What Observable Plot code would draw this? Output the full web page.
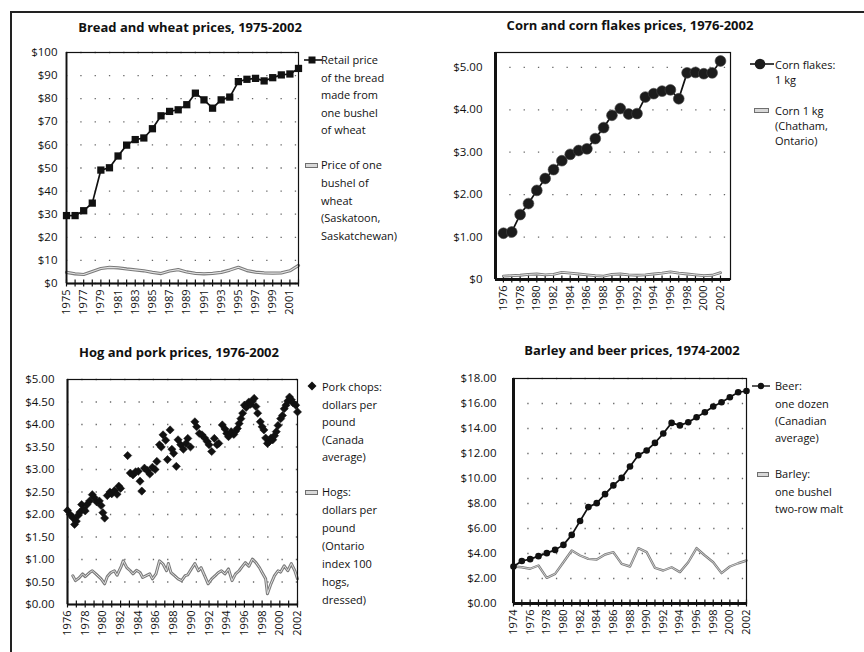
<!DOCTYPE html>
<html><head><meta charset="utf-8">
<script src="https://cdn.jsdelivr.net/npm/d3@7"></script>
<script src="https://cdn.jsdelivr.net/npm/@observablehq/plot@0.6"></script>
<style>
body{margin:0;background:#fff;font-family:"Open Sans",sans-serif;}
#page{position:relative;width:864px;height:652px;overflow:hidden;background:#fff;}
#border{position:absolute;left:10px;top:11px;width:900px;height:700px;border-left:2px solid #222;border-top:2px solid #222;}
.title{position:absolute;font-weight:700;font-size:13px;line-height:18px;color:#111;white-space:nowrap;transform:translateX(-50%);}
.leg{position:absolute;font-size:11px;color:#111;white-space:nowrap;}
.sym{position:absolute;overflow:visible;}
</style></head><body><div id="page"><div id="border"></div></div>
<script>
// ---------- Data ----------
const breadYears = [1975,1976,1977,1978,1979,1980,1981,1982,1983,1984,1985,1986,1987,1988,1989,1990,1991,1992,1993,1994,1995,1996,1997,1998,1999,2000,2001,2002];
const breadPrice = [29.4,29.4,31.5,34.8,49.1,50.1,55.2,59.9,62.3,63.0,67.0,72.6,74.5,75.2,77.4,82.4,79.5,75.9,79.5,80.7,87.4,88.4,88.8,87.7,89.1,90.3,90.7,93.1];
const wheatPrice = [4.8,4.2,3.9,5.2,6.5,7.0,6.8,6.3,5.9,5.5,4.8,4.3,5.4,6.0,5.0,4.4,4.2,4.4,4.8,5.8,7.0,5.6,4.9,4.6,4.5,4.6,5.5,7.8];

const cornYears = [1976,1977,1978,1979,1980,1981,1982,1983,1984,1985,1986,1987,1988,1989,1990,1991,1992,1993,1994,1995,1996,1997,1998,1999,2000,2001,2002];
const cornFlakes = [1.09,1.12,1.53,1.79,2.10,2.38,2.59,2.80,2.95,3.04,3.08,3.32,3.58,3.87,4.03,3.90,3.91,4.30,4.38,4.44,4.47,4.26,4.87,4.88,4.85,4.87,5.15];
const cornKg = [0.08,0.09,0.10,0.12,0.13,0.11,0.12,0.17,0.15,0.13,0.11,0.09,0.08,0.12,0.13,0.11,0.10,0.11,0.13,0.15,0.18,0.15,0.13,0.11,0.09,0.10,0.16];

const porkT = [1976.0,1976.3,1976.6,1976.8,1977.0,1977.2,1977.4,1977.6,1977.8,1978.0,1978.2,1978.5,1978.8,1979.0,1979.3,1979.6,1979.8,1980.0,1980.2,1980.5,1980.8,1981.0,1981.3,1981.6,1981.8,1982.0,1982.8,1983.1,1983.4,1983.7,1984.0,1984.2,1984.4,1984.7,1985.0,1985.3,1985.6,1985.9,1986.1,1986.4,1986.6,1986.8,1987.1,1987.3,1987.6,1987.8,1988.0,1988.3,1988.5,1988.8,1989.1,1989.4,1989.6,1989.9,1990.4,1990.6,1990.9,1991.2,1991.5,1991.8,1992.0,1992.3,1992.6,1992.9,1993.1,1993.5,1993.8,1994.0,1994.2,1994.5,1994.8,1995.0,1995.2,1995.4,1995.6,1995.8,1996.0,1996.2,1996.5,1996.7,1996.9,1997.1,1997.3,1997.5,1997.8,1998.0,1998.2,1998.4,1998.6,1998.8,1999.0,1999.2,1999.4,1999.6,1999.8,2000.1,2000.3,2000.5,2000.7,2000.9,2001.1,2001.3,2001.5,2001.8,2002.0];
const porkV = [2.09,2.00,1.93,1.78,1.85,1.98,2.05,2.22,2.12,2.08,2.22,2.30,2.44,2.38,2.28,2.30,2.20,2.04,1.92,2.42,2.50,2.46,2.53,2.45,2.63,2.58,3.31,2.92,2.88,2.95,2.96,2.74,2.52,3.03,2.98,2.90,3.05,3.00,3.18,3.55,3.50,3.77,3.65,3.22,3.88,3.45,3.36,3.07,3.66,3.55,3.45,3.58,3.69,3.50,4.06,3.95,3.80,3.77,3.70,3.62,3.55,3.40,3.69,3.55,3.58,3.99,3.90,3.80,3.73,3.84,3.78,3.85,3.91,4.02,4.13,4.25,4.43,4.38,4.50,4.45,4.52,4.58,4.40,4.25,4.06,3.95,3.88,3.70,3.58,3.62,3.70,3.66,3.75,3.84,3.98,4.13,4.20,4.35,4.43,4.52,4.61,4.55,4.48,4.43,4.28];

const hogT = [1976.6,1976.9,1977.3,1977.7,1978.0,1978.5,1978.8,1979.2,1979.8,1980.2,1980.5,1980.9,1981.3,1981.6,1982.1,1982.3,1982.7,1983.1,1983.4,1983.8,1984.2,1984.5,1984.9,1985.3,1985.6,1986.0,1986.4,1986.8,1987.2,1987.4,1987.7,1988.1,1988.5,1988.9,1989.3,1989.6,1990.0,1990.4,1990.8,1991.1,1991.5,1991.9,1992.3,1992.7,1993.0,1993.4,1993.8,1994.2,1994.6,1995.0,1995.4,1995.7,1996.1,1996.5,1996.9,1997.3,1997.7,1998.0,1998.4,1998.6,1998.8,1999.0,1999.4,1999.8,2000.1,2000.5,2000.9,2001.3,2001.7,2002.0];
const hogV = [0.64,0.53,0.59,0.68,0.62,0.71,0.75,0.68,0.57,0.46,0.62,0.71,0.75,0.65,0.86,0.97,0.82,0.75,0.68,0.76,0.71,0.60,0.64,0.68,0.57,0.68,0.97,0.90,0.75,0.91,0.71,0.64,0.57,0.53,0.64,0.66,0.79,0.91,0.75,0.82,0.64,0.46,0.57,0.64,0.70,0.75,0.68,0.79,0.53,0.68,0.75,0.83,0.93,0.85,1.01,0.93,0.82,0.71,0.57,0.24,0.35,0.46,0.64,0.75,0.72,0.86,0.75,0.91,0.75,0.57];

const beerYears = [1974,1975,1976,1977,1978,1979,1980,1981,1982,1983,1984,1985,1986,1987,1988,1989,1990,1991,1992,1993,1994,1995,1996,1997,1998,1999,2000,2001,2002];
const beerPrice = [2.96,3.40,3.55,3.79,4.03,4.29,4.69,5.49,6.60,7.71,8.03,8.75,9.45,10.05,10.96,11.86,12.24,12.85,13.60,14.45,14.25,14.50,14.90,15.30,15.76,16.10,16.50,16.90,17.00];
const barleyPrice = [2.96,2.90,2.78,3.04,2.05,2.37,3.30,4.24,3.84,3.57,3.52,3.92,4.11,3.17,2.96,4.43,4.11,2.85,2.64,2.90,2.51,3.30,4.43,3.84,3.30,2.43,2.96,3.22,3.44];

const breadTicks = [0,10,20,30,40,50,60,70,80,90,100];
const cornTicks = [0,1,2,3,4,5];
const porkTicks = [0,0.5,1,1.5,2,2.5,3,3.5,4,4.5,5];
const beerTicks = [0,2,4,6,8,10,12,14,16,18];
const breadLabels = [1975,1977,1979,1981,1983,1985,1987,1989,1991,1993,1995,1997,1999,2001];
const cornLabels = [1976,1978,1980,1982,1984,1986,1988,1990,1992,1994,1996,1998,2000,2002];
const porkLabels = cornLabels;
const beerLabels = [1974,1976,1978,1980,1982,1984,1986,1988,1990,1992,1994,1996,1998,2000,2002];

const titles = ["Bread and wheat prices, 1975-2002","Corn and corn flakes prices, 1976-2002","Hog and pork prices, 1976-2002","Barley and beer prices, 1974-2002"];

// ---------- Helpers ----------
const page = document.getElementById("page");
const FONT = "'Open Sans', sans-serif";
const yearsRange = (a, b) => d3.range(a, b + 1);

function grayLine(data, x, y, w1 = 3.2, w2 = 1.1) {
  return [
    Plot.line(data, {x, y, stroke: "#7a7a7a", strokeWidth: w1, curve: "linear"}),
    Plot.line(data, {x, y, stroke: "#e2e2e2", strokeWidth: w2, curve: "linear"})
  ];
}

function panel(cfg) {
  const [fx0, fy0, fx1, fy1] = cfg.frame;
  const mL = 60, mR = 15, mT = 15, mB = 45;
  const svg = Plot.plot({
    width: fx1 - fx0 + mL + mR,
    height: fy1 - fy0 + mT + mB,
    marginLeft: mL, marginRight: mR, marginTop: mT, marginBottom: mB,
    style: {fontFamily: FONT, fontSize: "11px", color: "#111", background: "transparent", overflow: "visible"},
    x: {domain: cfg.xDomain},
    y: {domain: cfg.yDomain},
    marks: [
      Plot.gridY(cfg.yTicks, {stroke: "#333", strokeOpacity: 0.75, strokeWidth: 1.3, strokeDasharray: "1.3,13"}),
      Plot.axisY(cfg.yTicks, {tickSize: 0, tickPadding: cfg.yPad, tickFormat: cfg.yFmt, label: null, fontSize: 11.5}),
      Plot.axisX(cfg.xTicks, {tickSize: 7, dy: -3.5, tickFormat: () => "", label: null, strokeWidth: 1.2, stroke: "#111"}),
      Plot.axisX(cfg.xLabels, {tickSize: 0, tickPadding: 6, tickRotate: -90, tickFormat: d => String(d), label: null, fontSize: 11}),
      ...cfg.marks,
      Plot.frame({stroke: "#111", strokeWidth: 1.2}),
      Plot.ruleX([cfg.xDomain[0]], {stroke: "#111", strokeWidth: cfg.leftW}),
      Plot.ruleY([cfg.yDomain[0]], {stroke: "#111", strokeWidth: cfg.leftW})
    ]
  });
  svg.style.position = "absolute";
  svg.style.left = (fx0 - mL) + "px";
  svg.style.top = (fy0 - mT) + "px";
  page.appendChild(svg);
}

function title(text, cx, cy) {
  const d = document.createElement("div");
  d.className = "title"; d.textContent = text;
  d.style.left = cx + "px"; d.style.top = (cy - 9) + "px";
  page.appendChild(d);
}
function legend(lines, x, cy, lh) {
  const d = document.createElement("div");
  d.className = "leg";
  d.style.left = x + "px"; d.style.top = (cy - lh / 2) + "px"; d.style.lineHeight = lh + "px";
  d.innerHTML = lines.join("<br>");
  page.appendChild(d);
}
function sym(x, y, w, h, inner) {
  const ns = "http://www.w3.org/2000/svg";
  const s = document.createElementNS(ns, "svg");
  s.setAttribute("class", "sym"); s.setAttribute("width", w); s.setAttribute("height", h);
  s.style.left = x + "px"; s.style.top = y + "px";
  s.innerHTML = inner;
  page.appendChild(s);
}
const grayBox = (w, h) => `<rect x="0.5" y="0.5" width="${w - 1}" height="${h - 1}" fill="#d8d8d8" stroke="#6f6f6f" stroke-width="1"/>`;

// ---------- Panel 1: Bread and wheat ----------
const breadRows = breadYears.map((year, i) => ({year, bread: breadPrice[i], wheat: wheatPrice[i]}));
panel({
  frame: [66, 52, 298, 283], xDomain: [1975, 2002], yDomain: [0, 100],
  yTicks: breadTicks, yFmt: d => "$" + d, yPad: 9, leftW: 1.8,
  xTicks: yearsRange(1975, 2002), xLabels: breadLabels,
  marks: [
    ...grayLine(breadRows, "year", "wheat"),
    Plot.line(breadRows, {x: "year", y: "bread", stroke: "#111", strokeWidth: 1.7}),
    Plot.dot(breadRows, {x: "year", y: "bread", symbol: "square", r: 4.1, fill: "#111"})
  ]
});

// ---------- Panel 2: Corn and corn flakes ----------
const cornRows = cornYears.map((year, i) => ({year, flakes: cornFlakes[i], corn: cornKg[i]}));
panel({
  frame: [495, 52, 730, 279], xDomain: [1975.05, 2003.2], yDomain: [0, 5.35],
  yTicks: cornTicks, yFmt: d => d === 0 ? "$0" : "$" + d.toFixed(2), yPad: 13, leftW: 3,
  xTicks: yearsRange(1976, 2002), xLabels: cornLabels,
  marks: [
    ...grayLine(cornRows, "year", "corn", 2.8, 1),
    Plot.line(cornRows, {x: "year", y: "flakes", stroke: "#111", strokeWidth: 1.7}),
    Plot.dot(cornRows, {x: "year", y: "flakes", r: 5.4, fill: "#1c1c1c", stroke: "#444", strokeWidth: 0.6})
  ]
});

// ---------- Panel 3: Hog and pork ----------
const porkRows = porkT.map((t, i) => ({t, v: porkV[i]}));
const hogRows = hogT.map((t, i) => ({t, v: hogV[i]}));
panel({
  frame: [67, 379, 297, 604], xDomain: [1976, 2002], yDomain: [0, 5],
  yTicks: porkTicks, yFmt: d => "$" + d.toFixed(2), yPad: 13, leftW: 2,
  xTicks: yearsRange(1976, 2002), xLabels: porkLabels,
  marks: [
    ...grayLine(hogRows, "t", "v", 3, 1),
    Plot.dot(porkRows, {x: "t", y: "v", symbol: "diamond2", r: 3.7, fill: "#111", stroke: "#111", strokeWidth: 0.5})
  ]
});

// ---------- Panel 4: Barley and beer ----------
const beerRows = beerYears.map((year, i) => ({year, beer: beerPrice[i], barley: barleyPrice[i]}));
panel({
  frame: [513, 378, 746, 603], xDomain: [1974, 2002], yDomain: [0, 18],
  yTicks: beerTicks, yFmt: d => "$" + d.toFixed(2), yPad: 17, leftW: 3,
  xTicks: yearsRange(1974, 2002), xLabels: beerLabels,
  marks: [
    ...grayLine(beerRows, "year", "barley", 2.4, 0.8),
    Plot.line(beerRows, {x: "year", y: "beer", stroke: "#111", strokeWidth: 1.7}),
    Plot.dot(beerRows, {x: "year", y: "beer", r: 3.3, fill: "#111"})
  ]
});

// ---------- Titles ----------
title(titles[0], 190, 27);
title(titles[1], 630, 25);
title(titles[2], 179, 352);
title(titles[3], 632, 350);

// ---------- Legends ----------
sym(304, 55, 18, 10, `<line x1="0" y1="5" x2="18" y2="5" stroke="#111" stroke-width="1.6"/><rect x="4.5" y="1.5" width="7" height="7" fill="#111"/>`);
legend(["Retail price", "of the bread", "made from", "one bushel", "of wheat"], 321, 60, 17.5);
sym(305, 163, 13, 5, grayBox(13, 5));
legend(["Price of one", "bushel of", "wheat", "(Saskatoon,", "Saskatchewan)"], 321, 165, 17.7);

sym(750, 58, 24, 12, `<line x1="0" y1="6" x2="24" y2="6" stroke="#111" stroke-width="1.6"/><circle cx="10" cy="6" r="5.3" fill="#1c1c1c"/>`);
legend(["Corn flakes:", "1 kg"], 775, 64, 15);
sym(754, 108, 15, 5, grayBox(15, 5));
legend(["Corn 1 kg", "(Chatham,", "Ontario)"], 775, 110.7, 15);

sym(307, 381, 10, 10, `<polygon points="5,0.5 9.5,5 5,9.5 0.5,5" fill="#111"/>`);
legend(["Pork chops:", "dollars per", "pound", "(Canada", "average)"], 322, 387, 17.5);
sym(305, 490, 13, 5, grayBox(13, 5));
legend(["Hogs:", "dollars per", "pound", "(Ontario", "index 100", "hogs,", "dressed)"], 322, 492, 18);

sym(752, 381, 18, 10, `<line x1="0" y1="5" x2="18" y2="5" stroke="#111" stroke-width="1.4"/><circle cx="9" cy="5" r="3.2" fill="#111"/>`);
legend(["Beer:", "one dozen", "(Canadian", "average)"], 775, 386, 17.3);
sym(757, 472, 12, 5, grayBox(12, 5));
legend(["Barley:", "one bushel", "two-row malt"], 775, 474, 17.5);
</script>
</body></html>
